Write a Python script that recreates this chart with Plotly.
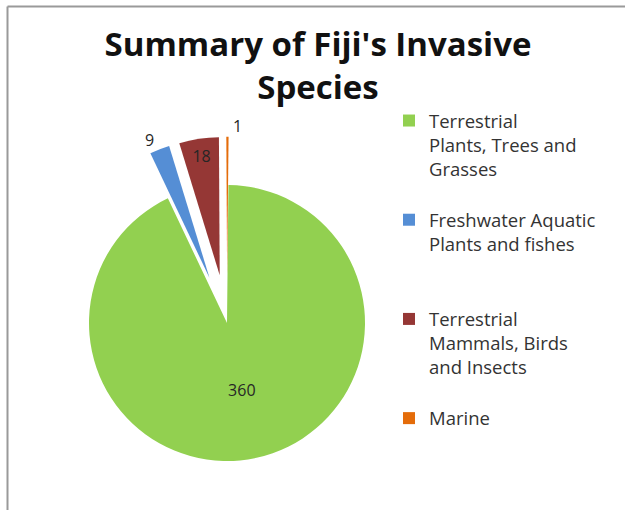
import plotly.graph_objects as go

# Invasive species counts by group
categories = [
    "Terrestrial<br>Plants, Trees and<br>Grasses",
    "Freshwater Aquatic<br>Plants and fishes",
    "Terrestrial<br>Mammals, Birds<br>and Insects",
    "Marine",
]
species_counts = [360, 9, 18, 1]
slice_colors = ["#92D050", "#558ED5", "#953735", "#E46C0A"]
label_positions = ["inside", "outside", "inside", "outside"]
explode = [0, 0.35, 0.35, 0.35]

W, H = 625, 510

# Pad each legend entry to the same number of lines so entries are evenly spaced
LEGEND_LINES = 4
legend_text = [c + "<br> " * (LEGEND_LINES - 1 - c.count("<br>")) for c in categories]

# Pie placement in pixels (centre and outer box incl. exploded slices)
cx, cy = 227, 323
radius = 138
half_box = radius * (1 + max(explode))

fig = go.Figure(
    go.Pie(
        labels=legend_text,
        values=species_counts,
        text=[str(v) for v in species_counts],
        textinfo="text",
        textposition=label_positions,
        insidetextorientation="horizontal",
        textfont=dict(family="Open Sans", size=16, color="#262626"),
        marker=dict(colors=slice_colors, line=dict(width=0)),
        pull=explode,
        sort=False,
        direction="clockwise",
        rotation=0.6,
        hoverinfo="label+value",
        domain=dict(
            x=[(cx - half_box) / W, (cx + half_box) / W],
            y=[1 - (cy + half_box) / H, 1 - (cy - half_box) / H],
        ),
    )
)

fig.update_layout(
    width=W,
    height=H,
    margin=dict(l=0, r=0, t=0, b=0, autoexpand=False),
    paper_bgcolor="white",
    plot_bgcolor="white",
    title=dict(
        text="Summary of Fiji's Invasive<br>Species",
        x=318 / W,
        xanchor="center",
        y=1 - 56 / H,
        yanchor="middle",
        yref="container",
        font=dict(family="Open Sans", size=33, color="#111111", weight="bold"),
    ),
    legend=dict(
        x=389 / W,
        y=1 - 102 / H,
        xanchor="left",
        yanchor="top",
        valign="top",
        font=dict(family="Open Sans", size=18.5, color="#333333"),
        bgcolor="rgba(0,0,0,0)",
        tracegroupgap=0,
    ),
    shapes=[
        # chart frame: top and left edges
        dict(type="line", xref="paper", yref="paper",
             x0=7.5 / W, x1=1, y0=1 - 6.5 / H, y1=1 - 6.5 / H,
             line=dict(color="#9a9a9a", width=2)),
        dict(type="line", xref="paper", yref="paper",
             x0=7.5 / W, x1=7.5 / W, y0=0, y1=1 - 6.5 / H,
             line=dict(color="#9a9a9a", width=2)),
    ],
)

fig.write_html("out.html")
